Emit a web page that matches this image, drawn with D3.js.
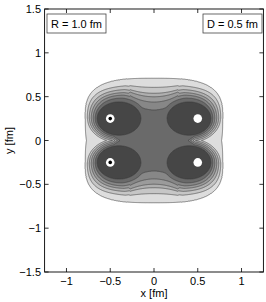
<!DOCTYPE html>
<html><head><meta charset="utf-8">
<script src="https://cdn.jsdelivr.net/npm/d3@7"></script>
<style>
html,body{margin:0;padding:0;background:#fff;}
text{font-family:"Liberation Sans",Arial,Helvetica,sans-serif;fill:#000;}
</style></head>
<body><svg id="chart" width="266" height="302"></svg>
<script>
// ---- data ----
const xTicks = [-1, -0.5, 0, 0.5, 1];
const yTicks = [-1.5, -1, -0.5, 0, 0.5, 1, 1.5];
const quarkX = [-0.5, -0.5, 0.5, 0.5];
const quarkY = [0.25, -0.25, 0.25, -0.25];
const quarkKind = ["quark", "quark", "antiquark", "antiquark"];
const levels = [1, 2, 3, 4, 5, 6, 7];
const levelColors = ["#dddddd", "#c6c6c6", "#afafaf", "#9b9b9b", "#878787", "#6a6a6a", "#464646"];
const labels = ["R = 1.0 fm", "D = 0.5 fm"];
// fractional positions of levels 6..1 between blob edge and outer edge (upper side)
const shellFracBlob = [0, 0.17, 0.30, 0.41, 0.54, 0.70, 1.0];
// fractional positions of levels 6..1 between centre plateau and outer edge (top of centre)
const shellFracCore = [0, 0.25, 0.42, 0.53, 0.72, 1.0];
// field shape parameters (one quadrant, mirrored by symmetry)
const blobCenter = [0.40, 0.25];
const blobAxes = [0.25, 0.19];
const blobFalloff = [11.5, 2.4];
const coreSide = [0.39, 1.5, 0.5, 0.028];
const envelope = [0.785, 0.46, 0.65, 0.25, 3.1];

const W = 266, H = 302;
const x = d3.scaleLinear().domain([-1.25, 1.25]).range([44.6, 263.4]);
const y = d3.scaleLinear().domain([-1.5, 1.5]).range([272, 9]);
const blobLevel = d3.scaleLinear().domain(shellFracBlob).range([7, 6, 5, 4, 3, 2, 1]);
const coreLevel = d3.scaleLinear().domain(shellFracCore).range([6, 5, 4, 3, 2, 1]);

function envR(X, Y) {
  const yp = Y - envelope[3];
  const ay = yp > 0 ? envelope[1] : envelope[2];
  const p = envelope[4];
  return Math.pow(Math.abs(X / envelope[0]) ** p + (Math.abs(yp) / ay) ** p, 1 / p);
}
const NA = 1440, rayR = new Float64Array(NA + 1);
for (let a = 0; a <= NA; a++) {
  const th = Math.PI * a / NA, ux = Math.cos(th), uy = Math.sin(th);
  let lo = 0, hi = 10;
  for (let k = 0; k < 40; k++) {
    const mid = (lo + hi) / 2;
    if (envR(blobCenter[0] + blobAxes[0] * ux * mid, blobCenter[1] + blobAxes[1] * uy * mid) < 1) lo = mid; else hi = mid;
  }
  rayR[a] = Math.min(lo, blobFalloff[1]);
}

function field(px, py) {
  const X = Math.abs(px), Y = Math.abs(py);
  const dx = (X - blobCenter[0]) / blobAxes[0], dy = (Y - blobCenter[1]) / blobAxes[1];
  const rho = Math.hypot(dx, dy) || 1e-9;
  let B;
  if (dy > 0 && rho > 1) {
    const a = Math.round(Math.atan2(dy, dx) / Math.PI * NA);
    const t = (rho - 1) / (rayR[a] - 1);
    const w = (dy / rho) ** 2;
    B = (1 - w) * (7 - 6 * t) + w * blobLevel(t);
  } else B = 7 - (rho - 1) * blobFalloff[0];
  let yT;
  if (X <= 0.27) yT = 0.35 + 0.1 * (X / 0.27) ** 2;
  else if (X <= 0.5) yT = 0.45 - 0.2 * (X - 0.27) / 0.23;
  else yT = 0.25;
  let Yo = X <= 0.5 ? 0.705 - 0.04 * (X / 0.5) ** 2 : 0.665 - 0.6 * (X - 0.5);
  Yo = Math.max(Yo, yT + 0.05);
  const Ctop = Y <= yT ? 6 + (yT - Y) : coreLevel((Y - yT) / (Yo - yT));
  const xs = Math.min(coreSide[0] + coreSide[1] * Y, coreSide[2]);
  const Cside = 6 - (X - xs) / coreSide[3];
  const C = Math.min(6.5, Ctop, Cside);
  const S = Math.min(1.5, 1 + 0.5 * (1 - envR(X, Y)));
  return Math.max(B, C, S);
}

const step = 0.004, g0 = -1.1, n = Math.round(2.2 / step) + 1;
const values = new Float64Array(n * n);
for (let j = 0; j < n; j++) for (let i = 0; i < n; i++) values[j * n + i] = field(g0 + i * step, g0 + j * step);
const contours = d3.contours().size([n, n]).thresholds(levels)(values);
const proj = d3.geoTransform({ point: function (gx, gy) { this.stream.point(x(g0 + (gx - 0.5) * step), y(g0 + (gy - 0.5) * step)); } });
const path = d3.geoPath(proj);

const svg = d3.select("#chart");
svg.append("rect").attr("width", W).attr("height", H).attr("fill", "#fff");
svg.append("defs").append("clipPath").attr("id", "clip").append("rect")
  .attr("x", x(-1.25)).attr("y", y(1.5)).attr("width", x(1.25) - x(-1.25)).attr("height", y(-1.5) - y(1.5));
const plot = svg.append("g").attr("clip-path", "url(#clip)");
plot.selectAll("path.lev").data(contours).join("path").attr("class", "lev")
  .attr("d", path).attr("fill", (d, i) => levelColors[i])
  .attr("stroke", "#3c3c3c").attr("stroke-width", 0.6).attr("stroke-linejoin", "round");

// quark markers
const qs = quarkX.map((v, i) => ({ x: v, y: quarkY[i], k: quarkKind[i] }));
plot.selectAll("circle.q").data(qs).join("circle").attr("class", "q")
  .attr("cx", d => x(d.x)).attr("cy", d => y(d.y)).attr("r", 4.3).attr("fill", "#fff");
plot.selectAll("circle.c").data(qs.filter(d => d.k === "quark")).join("circle").attr("class", "c")
  .attr("cx", d => x(d.x)).attr("cy", d => y(d.y)).attr("r", 1.8).attr("fill", "#000");

// axes
const fmt = d => (d < 0 ? "\u2212" : "") + Math.abs(d);
const tl = 4;
const ax = svg.append("g").attr("stroke", "#000").attr("stroke-width", 0.8);
xTicks.forEach(t => {
  ax.append("line").attr("x1", x(t)).attr("x2", x(t)).attr("y1", y(-1.5)).attr("y2", y(-1.5) - tl);
  ax.append("line").attr("x1", x(t)).attr("x2", x(t)).attr("y1", y(1.5)).attr("y2", y(1.5) + tl);
});
yTicks.forEach(t => {
  ax.append("line").attr("y1", y(t)).attr("y2", y(t)).attr("x1", x(-1.25)).attr("x2", x(-1.25) + tl);
  ax.append("line").attr("y1", y(t)).attr("y2", y(t)).attr("x1", x(1.25)).attr("x2", x(1.25) - tl);
});
svg.append("rect").attr("x", x(-1.25)).attr("y", y(1.5)).attr("width", x(1.25) - x(-1.25)).attr("height", y(-1.5) - y(1.5))
  .attr("fill", "none").attr("stroke", "#000").attr("stroke-width", 0.9);

svg.selectAll("text.xt").data(xTicks).join("text").attr("class", "xt")
  .attr("x", d => x(d)).attr("y", 285).attr("text-anchor", "middle").attr("font-size", 11).text(fmt);
svg.selectAll("text.yt").data(yTicks).join("text").attr("class", "yt")
  .attr("x", 41).attr("y", d => y(d) + 4).attr("text-anchor", "end").attr("font-size", 11).text(fmt);
svg.append("text").attr("x", x(0)).attr("y", 297).attr("text-anchor", "middle").attr("font-size", 11).text("x [fm]");
svg.append("text").attr("transform", `translate(13,${y(0)}) rotate(-90)`).attr("text-anchor", "middle").attr("font-size", 11).text("y [fm]");

// label boxes
const boxes = [{ x0: 47, x1: 106, t: labels[0] }, { x0: 203, x1: 262, t: labels[1] }];
boxes.forEach(b => {
  svg.append("rect").attr("x", b.x0).attr("y", 14).attr("width", b.x1 - b.x0).attr("height", 19)
    .attr("fill", "#fff").attr("stroke", "#444").attr("stroke-width", 0.8);
  svg.append("text").attr("x", (b.x0 + b.x1) / 2).attr("y", 27.5).attr("text-anchor", "middle").attr("font-size", 11).text(b.t);
});
</script></body></html>
